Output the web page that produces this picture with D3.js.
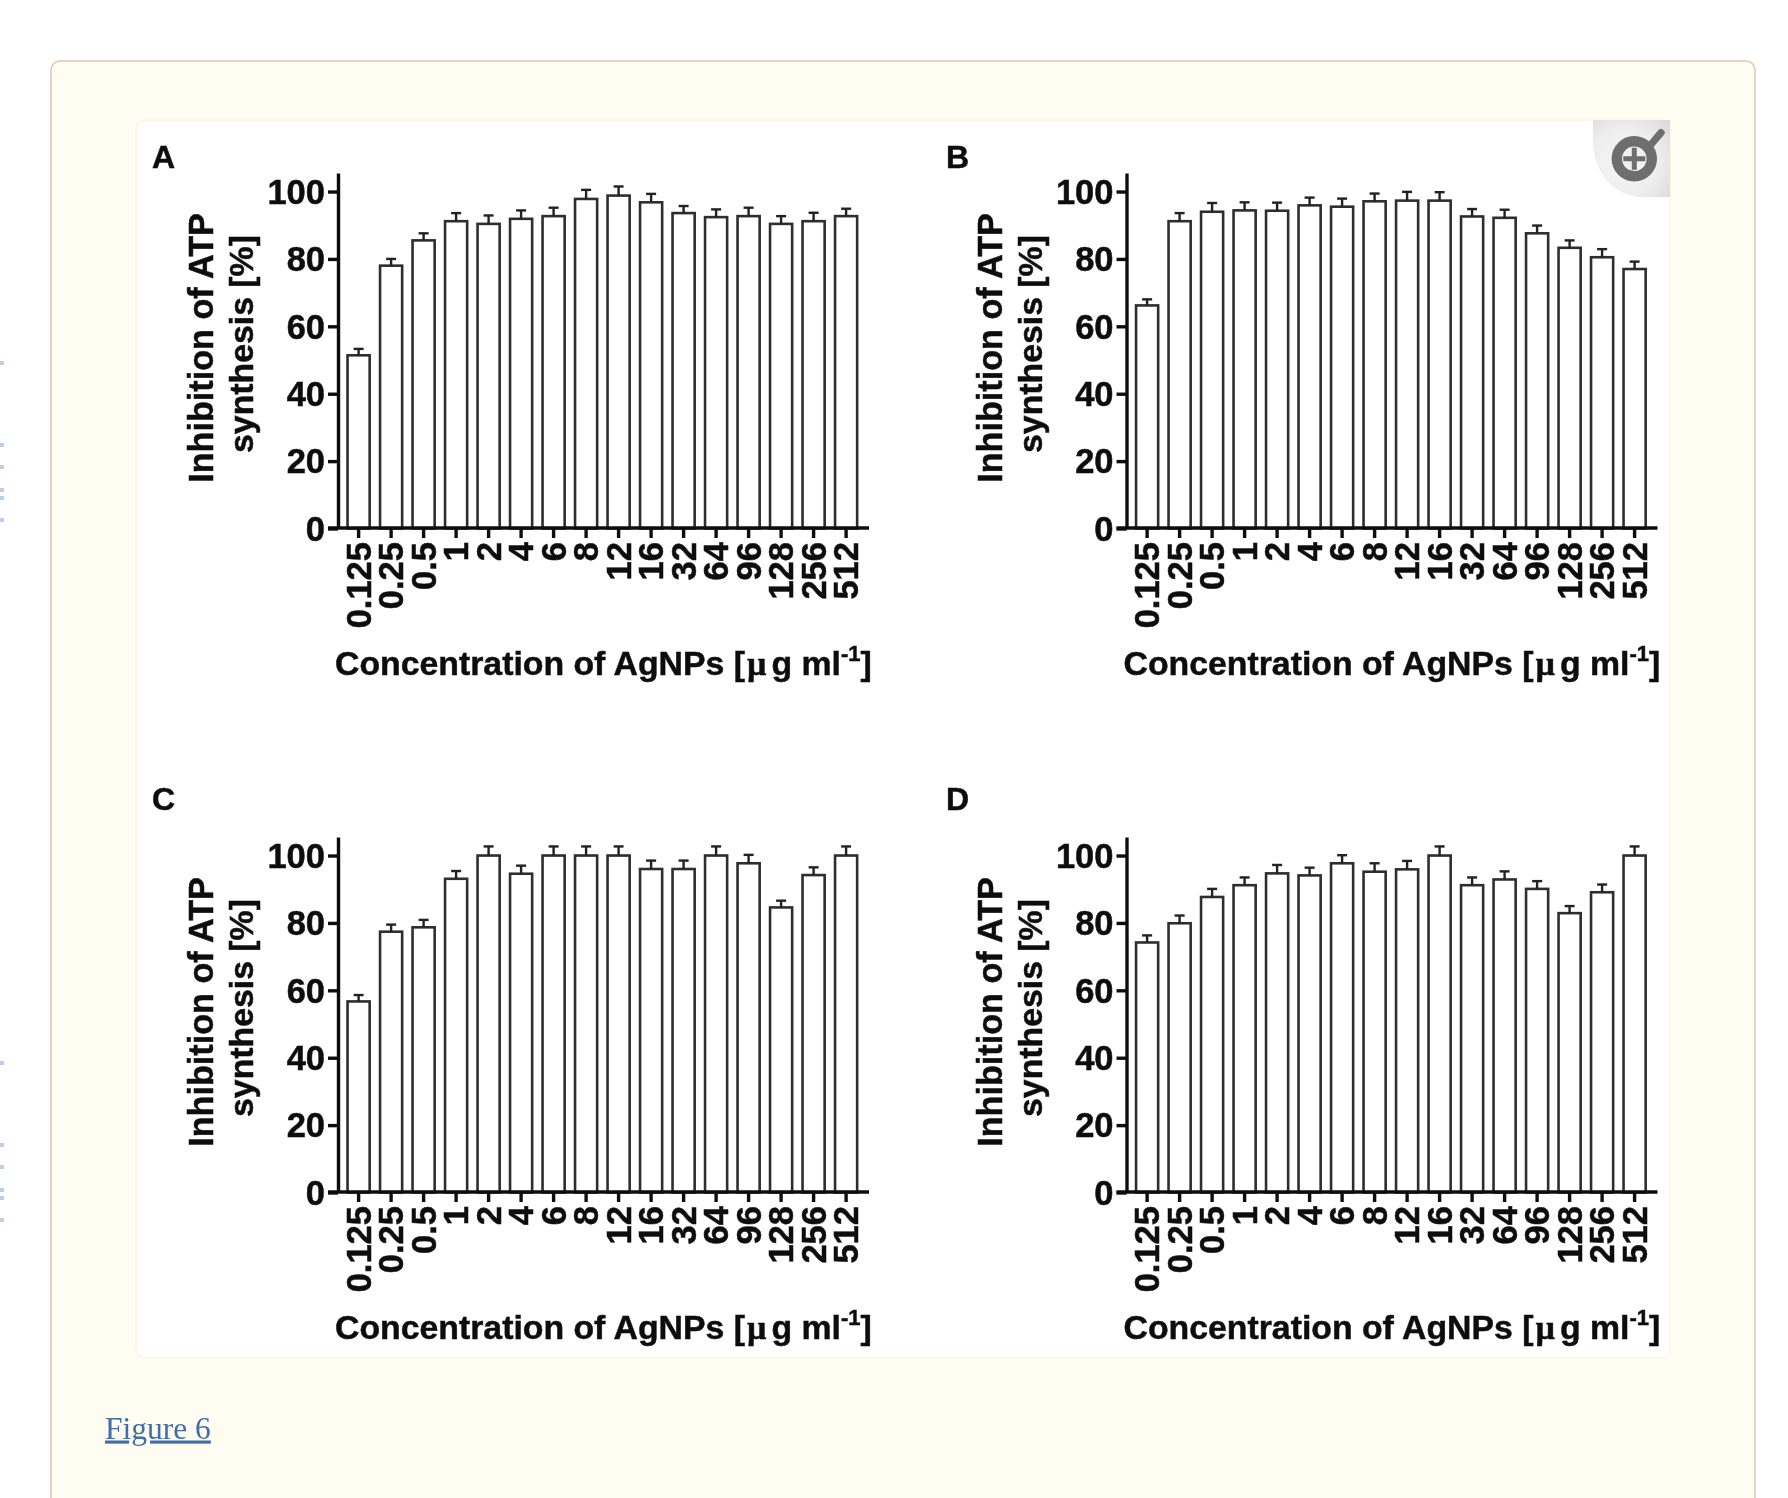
<!DOCTYPE html>
<html>
<head>
<meta charset="utf-8">
<script src="https://cdn.jsdelivr.net/npm/d3@7"></script>
<style>
  body { margin: 0; background: #fff; }
  svg { display: block; }
</style>
</head>
<body>
<script>
// concentrations on the x axis, shared by all four panels
var concentrations = ['0.125', '0.25', '0.5', '1', '2', '4', '6', '8', '12', '16', '32', '64', '96', '128', '256', '512'];
var yTicks = [0, 20, 40, 60, 80, 100];

// inhibition of ATP synthesis [%] and error bars
var valuesA = [51.4, 78, 85.5, 91.2, 90.4, 91.9, 92.7, 97.8, 98.8, 96.8, 93.6, 92.4, 92.7, 90.4, 91.2, 92.7];
var errorsA = [1.9, 2, 2.1, 2.4, 2.5, 2.5, 2.5, 2.7, 2.7, 2.5, 2.1, 2.3, 2.5, 2.3, 2.5, 2.2];
var valuesB = [66.2, 91.2, 94, 94.4, 94.3, 95.9, 95.5, 97.1, 97.3, 97.3, 92.6, 92.2, 87.6, 83.3, 80.5, 77];
var errorsB = [1.8, 2.4, 2.6, 2.4, 2.4, 2.3, 2.4, 2.3, 2.6, 2.5, 2.2, 2.4, 2.3, 2.2, 2.4, 2.2];
var valuesC = [56.7, 77.4, 78.7, 93.1, 100, 94.6, 100, 100, 100, 96, 96, 100, 97.7, 84.6, 94.2, 100];
var errorsC = [1.9, 2.1, 2.2, 2.3, 2.7, 2.4, 2.7, 2.7, 2.7, 2.5, 2.5, 2.7, 2.5, 2, 2.3, 2.7];
var valuesD = [74.2, 79.9, 87.7, 91.2, 94.7, 94.1, 97.7, 95.2, 95.9, 100, 91.2, 92.9, 90.1, 82.9, 89.1, 100];
var errorsD = [2.1, 2.3, 2.4, 2.3, 2.5, 2.3, 2.4, 2.5, 2.5, 2.7, 2.3, 2.4, 2.3, 2.1, 2.3, 2.7];

var panelNames = ['A', 'B', 'C', 'D'];
var panelValues = [valuesA, valuesB, valuesC, valuesD];
var panelErrors = [errorsA, errorsB, errorsC, errorsD];

var sansFont = '"Liberation Sans", Arial, sans-serif';
var dx = 788.5, dy = 664;

var svg = d3.select('body')
    .append('svg')
    .attr('width', 1788)
    .attr('height', 1498);

var defs = svg.append('defs');

// the figure is a slightly blurry raster in the original
defs.append('filter')
    .attr('id', 'soft')
    .attr('filterUnits', 'userSpaceOnUse')
    .attr('x', 0).attr('y', 0).attr('width', 1788).attr('height', 1498)
    .append('feGaussianBlur')
    .attr('stdDeviation', 0.7);

var iconGrad = defs.append('radialGradient')
    .attr('id', 'iconGrad')
    .attr('gradientUnits', 'userSpaceOnUse')
    .attr('cx', 1625).attr('cy', 162).attr('r', 62);
iconGrad.append('stop').attr('offset', '0%').attr('stop-color', '#f6f6f6');
iconGrad.append('stop').attr('offset', '55%').attr('stop-color', '#eeeeee');
iconGrad.append('stop').attr('offset', '100%').attr('stop-color', '#d8d8d8');

// page furniture: outer box, white card
svg.append('rect')
    .attr('x', 51).attr('y', 61)
    .attr('width', 1704).attr('height', 1500)
    .attr('rx', 9)
    .attr('fill', '#fffcf1')
    .attr('stroke', '#e5c5b0')
    .attr('stroke-width', 1.5);

svg.append('rect')
    .attr('x', 136).attr('y', 120)
    .attr('width', 1534).attr('height', 1238)
    .attr('rx', 9)
    .attr('fill', '#fff')
    .attr('stroke', '#fbeede')
    .attr('stroke-width', 1);

// blue bits of cut off text at the left edge of the page
var edgeMarks = [361, 443, 465, 488, 496, 518, 1061, 1143, 1165, 1188, 1196, 1218];
svg.selectAll('.edge')
    .data(edgeMarks)
    .enter().append('rect')
    .attr('class', 'edge')
    .attr('x', 0)
    .attr('y', function (d) { return d; })
    .attr('width', 4)
    .attr('height', 4)
    .attr('filter', 'url(#soft)')
    .attr('fill', '#bcd0ee');

panelNames.forEach(function (name, p) {
    var ox = p % 2 * dx;
    var oy = Math.floor(p / 2) * dy;
    var values = panelValues[p];
    var errors = panelErrors[p];

    var g = svg.append('g')
        .attr('filter', 'url(#soft)')
        .attr('font-family', sansFont)
        .attr('font-weight', 'bold')
        .attr('fill', '#111');

    //create scales
    var xscale = d3.scaleBand()
        .domain(concentrations)
        .range([342.35 + ox, 862.35 + ox])
        .paddingInner(0.32)
        .paddingOuter(0.16);
    var yscale = d3.scaleLinear()
        .domain([0, 105.5])
        .range([528.5 + oy, 173 + oy]);

    //bars
    g.selectAll('.bar')
        .data(values)
        .enter().append('rect')
        .attr('class', 'bar')
        .attr('x', function (d, i) { return xscale(concentrations[i]); })
        .attr('y', function (d) { return yscale(d); })
        .attr('width', xscale.bandwidth())
        .attr('height', function (d) { return yscale(0) - yscale(d); })
        .attr('fill', '#fff')
        .attr('stroke', '#2e2e2e')
        .attr('stroke-width', 2.6);

    //error bars
    var capHalf = 5;
    var errs = g.selectAll('.err')
        .data(values)
        .enter().append('g')
        .attr('class', 'err')
        .attr('stroke', '#222')
        .attr('stroke-width', 2.4);
    errs.append('line')
        .attr('x1', function (d, i) { return xscale(concentrations[i]) + xscale.bandwidth() / 2; })
        .attr('x2', function (d, i) { return xscale(concentrations[i]) + xscale.bandwidth() / 2; })
        .attr('y1', function (d) { return yscale(d); })
        .attr('y2', function (d, i) { return yscale(d + errors[i]); });
    errs.append('line')
        .attr('x1', function (d, i) { return xscale(concentrations[i]) + xscale.bandwidth() / 2 - capHalf; })
        .attr('x2', function (d, i) { return xscale(concentrations[i]) + xscale.bandwidth() / 2 + capHalf; })
        .attr('y1', function (d, i) { return yscale(d + errors[i]); })
        .attr('y2', function (d, i) { return yscale(d + errors[i]); });

    //create axes
    var yaxis = d3.axisLeft(yscale)
        .tickValues(yTicks)
        .tickSize(10)
        .tickSizeOuter(0)
        .tickPadding(3);
    var xaxis = d3.axisBottom(xscale)
        .tickSize(10)
        .tickSizeOuter(0)
        .tickPadding(0);

    var yg = g.append('g')
        .attr('transform', 'translate(' + (338 + ox) + ',0)')
        .call(yaxis);
    var xg = g.append('g')
        .attr('transform', 'translate(0,' + (528 + oy) + ')')
        .call(xaxis);

    // baseline runs past the bands on both sides
    xg.select('.domain')
        .attr('d', 'M' + (328 + ox) + ',0H' + (869 + ox));

    [yg, xg].forEach(function (a) {
        a.attr('font-family', sansFont).attr('font-size', 34.5);
        a.selectAll('.domain, line').attr('stroke', '#111').attr('stroke-width', 3.4);
        a.selectAll('text').attr('fill', '#111');
    });

    yg.selectAll('text').attr('dy', '0.34em');

    xg.selectAll('text')
        .attr('transform', 'rotate(-90)')
        .attr('text-anchor', 'end')
        .attr('x', -14)
        .attr('y', 0)
        .attr('dy', '0.35em');

    //panel letter, the lower row sits closer to its plot than the upper row
    g.append('text')
        .attr('x', 152 + p % 2 * 794)
        .attr('y', 167.5 + Math.floor(p / 2) * 642)
        .attr('font-size', 32)
        .text(name);

    //label for y axis
    g.append('text')
        .attr('transform', 'translate(' + (213 + ox) + ',' + (348 + oy) + ') rotate(-90)')
        .attr('text-anchor', 'middle')
        .attr('font-size', 34.2)
        .text('Inhibition of ATP');
    g.append('text')
        .attr('transform', 'translate(' + (253 + ox) + ',' + (344 + oy) + ') rotate(-90)')
        .attr('text-anchor', 'middle')
        .attr('font-size', 33.8)
        .text('synthesis [%]');

    //label for x axis
    var title = g.append('text')
        .attr('x', 335 + ox)
        .attr('y', 675 + oy)
        .attr('font-size', 33.8);
    title.append('tspan').text('Concentration of AgNPs [');
    title.append('tspan').attr('dx', 2).attr('font-family', '"Liberation Serif", serif').text('\u00b5');
    title.append('tspan').attr('dx', 5).text('g ml');
    title.append('tspan').attr('dy', -14).attr('font-size', 22).text('-1');
    title.append('tspan').attr('dy', 14).text(']');

    // the printed type is heavier than plain bold
    g.selectAll('text')
        .attr('stroke', '#111')
        .attr('stroke-width', 0.5);
});

// zoom icon in the corner of the card
svg.append('path')
    .attr('d', 'M1593,120H1670V197H1642A49,55 0 0 1 1593,142Z')
    .attr('fill', 'url(#iconGrad)');
svg.append('circle')
    .attr('cx', 1634.3).attr('cy', 158.7).attr('r', 17.5)
    .attr('fill', '#f1f1f1')
    .attr('stroke', '#6e6e6e')
    .attr('stroke-width', 10.4);
svg.append('line')
    .attr('x1', 1651).attr('y1', 144.5)
    .attr('x2', 1661).attr('y2', 132.7)
    .attr('stroke', '#6e6e6e')
    .attr('stroke-width', 7.3)
    .attr('stroke-linecap', 'round');
svg.append('path')
    .attr('d', 'M1623.3,158.7H1645.3M1634.3,147.7V169.7')
    .attr('stroke', '#6e6e6e')
    .attr('stroke-width', 5);

// caption link
svg.append('text')
    .attr('x', 105)
    .attr('y', 1438.5)
    .attr('font-family', '"Liberation Serif", serif')
    .attr('font-size', 31.5)
    .attr('fill', '#3f6ea8')
    .attr('text-decoration', 'underline')
    .text('Figure 6');
</script>
</body>
</html>
